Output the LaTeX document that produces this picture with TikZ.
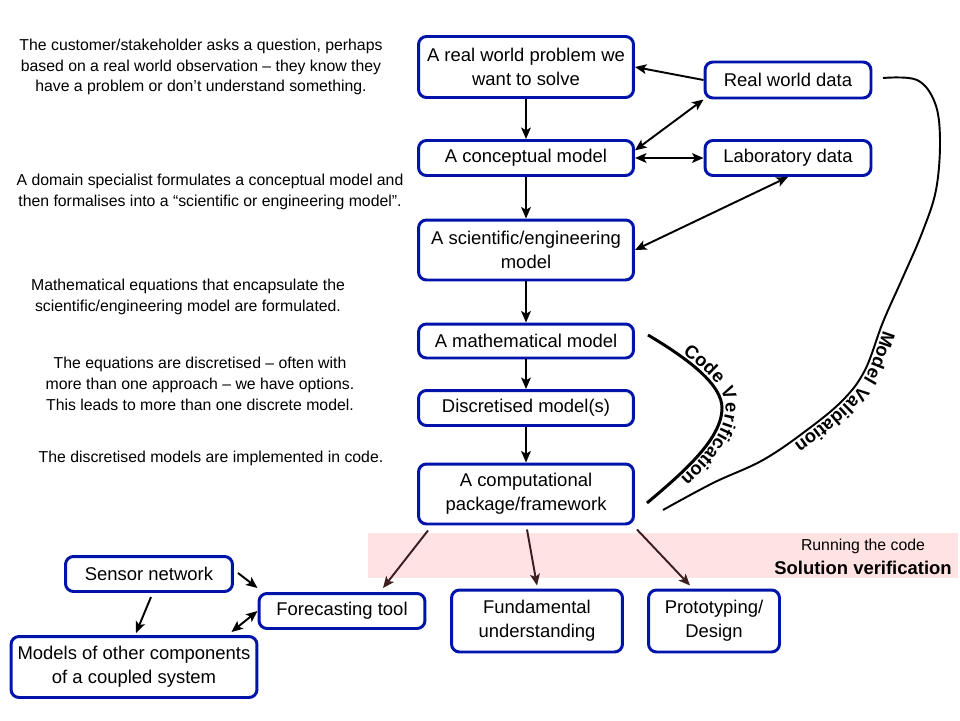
\documentclass[tikz,border=0pt]{standalone}
\usepackage{fontspec}
\setmainfont{Liberation Sans}
\usetikzlibrary{arrows.meta,calc,decorations.text}
\definecolor{boxblue}{RGB}{0,20,170}
\definecolor{bandpink}{RGB}{255,226,226}
\definecolor{runbrown}{RGB}{60,30,30}
\newcommand\notefont{\fontsize{9}{11.9}\selectfont}
\newcommand\boxfont{\fontsize{10.5}{13.6}\selectfont}
\newcommand\curvefont{\fontsize{10.5}{12.6}\selectfont\bfseries}

\begin{document}
\begin{tikzpicture}[x=0.02cm, y=-0.02cm,
  stage/.style={draw=boxblue, line width=1.7pt, rounded corners=0.16cm, fill=white,
    align=center, font=\boxfont, inner sep=1pt},
  note/.style={align=center, font=\notefont, inner sep=0pt},
  arr/.style={line width=1.1pt, -{Stealth[length=6.5pt,width=5.5pt,inset=1.5pt]}},
  dblarr/.style={line width=1.1pt,
    {Stealth[length=6.5pt,width=5.5pt,inset=1.5pt]}-{Stealth[length=6.5pt,width=5.5pt,inset=1.5pt]}},
  ]

\useasboundingbox ( 0, 0 ) rectangle ( 960, 720 );

% Solution verification band
\fill [bandpink] ( 368, 533 ) rectangle ( 958, 578 );
\node [inner sep=0pt, font=\notefont] (running) at ( 863, 546 ) {Running the code};
\node [inner sep=0pt, font=\curvefont] (solution) at ( 863, 568 ) {Solution verification};

% Main chain
\node [stage, minimum width=4.3cm, minimum height=1.22cm] (real) at ( 526, 67 ) {A real world problem we\\want to solve};
\node [stage, minimum width=4.3cm, minimum height=0.7cm] (concept) at ( 526, 158 ) {A conceptual model};
\node [stage, minimum width=4.3cm, minimum height=1.2cm] (sci) at ( 526, 250 ) {A scientific/engineering\\model};
\node [stage, minimum width=4.3cm, minimum height=0.68cm] (math) at ( 526, 341 ) {A mathematical model};
\node [stage, minimum width=4.3cm, minimum height=0.7cm] (disc) at ( 526, 408 ) {Discretised model(s)};
\node [stage, minimum width=4.3cm, minimum height=1.2cm] (comp) at ( 526, 494 ) {A computational\\package/framework};

% Data
\node [stage, minimum width=3.32cm, minimum height=0.72cm] (rwdata) at ( 788, 80 ) {Real world data};
\node [stage, minimum width=3.32cm, minimum height=0.7cm] (labdata) at ( 788, 158 ) {Laboratory data};

% Uses
\node [stage, minimum width=3.34cm, minimum height=0.7cm] (sensor) at ( 149, 574 ) {Sensor network};
\node [stage, minimum width=3.32cm, minimum height=0.7cm] (forecast) at ( 342, 611 ) {Forecasting tool};
\node [stage, minimum width=4.92cm, minimum height=1.22cm] (others) at ( 134, 667 ) {Models of other components\\of a coupled system};
\node [stage, minimum width=3.42cm, minimum height=1.24cm] (fund) at ( 537, 621 ) {Fundamental\\understanding};
\node [stage, minimum width=2.62cm, minimum height=1.24cm] (proto) at ( 714, 621 ) {Prototyping/\\Design};

% Notes
\node [note] (n1) at ( 201, 67 ) {The customer/stakeholder asks a question, perhaps\\based on a real world observation -- they know they\\have a problem or don’t understand something.};
\node [note] (n2) at ( 210, 192 ) {A domain specialist formulates a conceptual model and\\then formalises into a “scientific or engineering model”.};
\node [note] (n3) at ( 188, 297 ) {Mathematical equations that encapsulate the\\scientific/engineering model are formulated.};
\node [note] (n4) at ( 200, 384 ) {The equations are discretised -- often with\\more than one approach -- we have options.\\This leads to more than one discrete model.};
\node [note] (n5) at ( 211, 458 ) {The discretised models are implemented in code.};

% Chain arrows
\draw [arr] (real) -- (concept);
\draw [arr] (concept) -- (sci);
\draw [arr] (sci) -- (math);
\draw [arr] (math) -- (disc);
\draw [arr] (disc) -- (comp);

% Data arrows
\draw [arr] (rwdata.west) -- (real.east);
\draw [dblarr] (concept.4) -- (rwdata.south west);
\draw [dblarr] (concept.east) -- (labdata.west);
\draw [dblarr] (sci.east) -- (labdata.south);

% Running the code
\draw [arr, runbrown] ($ (comp.south) + ( -98, 5 ) $) -- ($ (forecast.north) + ( 41, -4 ) $);
\draw [arr, runbrown] ($ (comp.south) + ( 1, 4 ) $) -- ($ (fund.north) + ( 0, -3 ) $);
\draw [arr, runbrown] ($ (comp.south east) + ( 2, 4 ) $) -- ($ (proto.north) + ( -24, -3 ) $);

% Forecasting
\draw [arr] ($ (sensor.east) + ( 4, -1 ) $) -- ($ (forecast.north west) + ( 0, -4 ) $);
\draw [arr] ($ (sensor.south) + ( 2, 4 ) $) -- ($ (others.north) + ( 2, -2 ) $);
\draw [dblarr] (forecast.west) -- ($ (others.north east) + ( -27, -3 ) $);

% Code verification
\draw [line width=1.7pt, postaction={decorate, decoration={text along path,
    text={|\curvefont|Code Verification}, text align={left indent=22pt}, raise=2pt}}]
  ( 648, 335 ) .. controls ( 690, 360 ) and ( 722, 385 ) .. ( 722, 408 )
  .. controls ( 722, 440 ) and ( 680, 475 ) .. ( 647, 503 );

% Model validation
\draw [line width=1.1pt, postaction={decorate, decoration={text along path,
    text={|\curvefont|Model Validation}, text align={left indent=172pt}, raise=2pt}}]
  plot [smooth, tension=0.6] coordinates { ( 883, 78 ) ( 917, 80 ) ( 935, 103 ) ( 940, 140 )
  ( 936, 190 ) ( 922, 233 ) ( 903, 277 ) ( 883, 322 ) ( 865, 370 ) ( 843, 400 )
  ( 807, 430 ) ( 763, 460 ) ( 713, 483 ) ( 663, 510 ) };

\end{tikzpicture}
\end{document}
